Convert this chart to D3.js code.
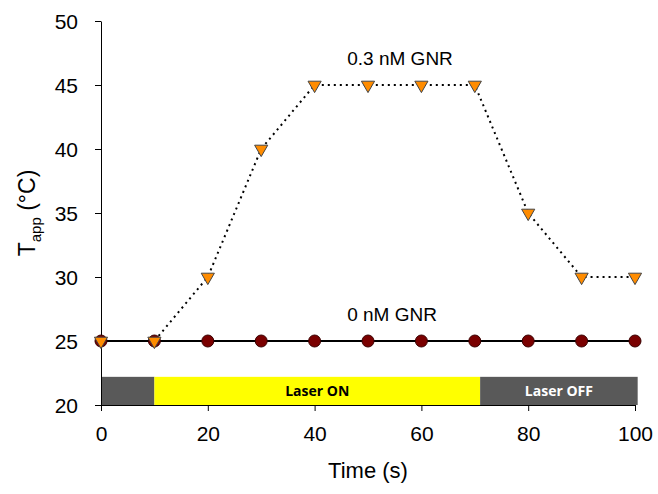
<!DOCTYPE html>
<html>
<head>
<meta charset="utf-8">
<script src="https://cdn.jsdelivr.net/npm/d3@7"></script>
<style>
  body { margin: 0; background: #fff; }
  svg text { font-family: "Liberation Sans", Arial, sans-serif; }
</style>
</head>
<body>
<div id="chart"></div>
<script>
// data
const times = [0, 10, 20, 30, 40, 50, 60, 70, 80, 90, 100];
const gnr03 = [25, 25, 30, 40, 45, 45, 45, 45, 35, 30, 30];
const gnr0 = [25, 25, 25, 25, 25, 25, 25, 25, 25, 25, 25];
const xTicks = [0, 20, 40, 60, 80, 100];
const yTicks = [20, 25, 30, 35, 40, 45, 50];
// laser bar segments: [start, end, label]
const laserStart = [0, 10, 71];
const laserEnd = [10, 71, 100.5];
const laserLabel = ["", "Laser ON", "Laser OFF"];

const width = 658, height = 494;
const margin = {left: 101, right: 23, top: 21, bottom: 89};

let svg = d3.select("#chart")
    .append("svg")
        .attr("width", width)
        .attr("height", height);

let x = d3.scaleLinear().domain([0, 100]).range([margin.left, width - margin.right]);
let y = d3.scaleLinear().domain([20, 50]).range([height - margin.bottom, margin.top]);

// laser on/off bar
let segs = laserStart.map((s, i) => ({s: s, e: laserEnd[i], label: laserLabel[i]}));
svg.selectAll("rect.laser")
    .data(segs)
    .enter()
    .append("rect")
    .attr("class", "laser")
    .attr("x", d => x(d.s))
    .attr("width", d => x(d.e) - x(d.s))
    .attr("y", y(22.2))
    .attr("height", y(20) - y(22.2))
    .attr("fill", d => d.label == "Laser ON" ? "#ffff00" : "#595959");

svg.selectAll("text.laser")
    .data(segs.filter(d => d.label))
    .enter()
    .append("text")
    .attr("class", "laser")
    .attr("x", d => (x(d.s) + x(d.e)) / 2)
    .attr("y", y(21.1) + 5)
    .attr("text-anchor", "middle")
    .style("font-size", "14px")
    .style("font-weight", "bold")
    .style("font-family", "'Open Sans', sans-serif")
    .attr("fill", d => d.label == "Laser ON" ? "#000" : "#fff")
    .text(d => d.label);

// axes
let yAxis = svg.append("g")
    .attr("transform", `translate(${margin.left},0)`)
    .call(d3.axisLeft(y).tickValues(yTicks).tickSize(6).tickPadding(17).tickSizeOuter(0));
let xAxis = svg.append("g")
    .attr("transform", `translate(0,${y(20)})`)
    .call(d3.axisBottom(x).tickValues(xTicks).tickSize(6).tickPadding(12).tickSizeOuter(0));

[xAxis, yAxis].forEach(a => {
    a.selectAll("text").style("font-size", "21px").attr("fill", "#000")
        .style("font-family", "'Liberation Sans', Arial, sans-serif");
    a.selectAll("line").attr("stroke", "#000");
    a.select(".domain").attr("stroke", "#000");
});
yAxis.selectAll("text").attr("dy", "0.35em");
xAxis.selectAll("text").attr("dy", "0.85em");

// axis titles
let ylab = svg.append("text")
    .attr("transform", `translate(35, ${y(35)}) rotate(-90)`)
    .attr("text-anchor", "middle")
    .style("font-size", "23px");
ylab.append("tspan").text("T");
ylab.append("tspan").attr("dy", 6).style("font-size", "15px").text("app");
ylab.append("tspan").attr("dy", -6).text(" (°C)");

svg.append("text")
    .attr("x", x(50))
    .attr("y", 478)
    .attr("text-anchor", "middle")
    .style("font-size", "22px")
    .text("Time (s)");

// lines
let line = d3.line().x((d, i) => x(times[i])).y(d => y(d));

svg.append("path")
    .datum(gnr0)
    .attr("d", line)
    .attr("fill", "none")
    .attr("stroke", "#000")
    .attr("stroke-width", 2);

svg.append("path")
    .datum(gnr03)
    .attr("d", line)
    .attr("fill", "none")
    .attr("stroke", "#000")
    .attr("stroke-width", 2)
    .attr("stroke-dasharray", "2,4");

// markers: circles for 0 nM
svg.selectAll("circle.g0")
    .data(gnr0)
    .enter()
    .append("circle")
    .attr("class", "g0")
    .attr("cx", (d, i) => x(times[i]))
    .attr("cy", d => y(d))
    .attr("r", 6)
    .attr("fill", "#7a0000")
    .attr("stroke", "#3a0000")
    .attr("stroke-width", 1);

// down triangles for 0.3 nM
let tri = d3.symbol().type(d3.symbolTriangle).size(75);
svg.selectAll("path.g03")
    .data(gnr03)
    .enter()
    .append("path")
    .attr("class", "g03")
    .attr("d", tri)
    .attr("transform", (d, i) => `translate(${x(times[i])},${y(d)}) rotate(180)`)
    .attr("fill", "#ff8c00")
    .attr("stroke", "#444")
    .attr("stroke-width", 1);

// series labels
svg.append("text")
    .attr("x", x(56))
    .attr("y", y(46.6))
    .attr("text-anchor", "middle")
    .style("font-size", "19px")
    .text("0.3 nM GNR");

svg.append("text")
    .attr("x", x(54.5))
    .attr("y", y(26.6))
    .attr("text-anchor", "middle")
    .style("font-size", "19px")
    .text("0 nM GNR");
</script>
</body>
</html>
